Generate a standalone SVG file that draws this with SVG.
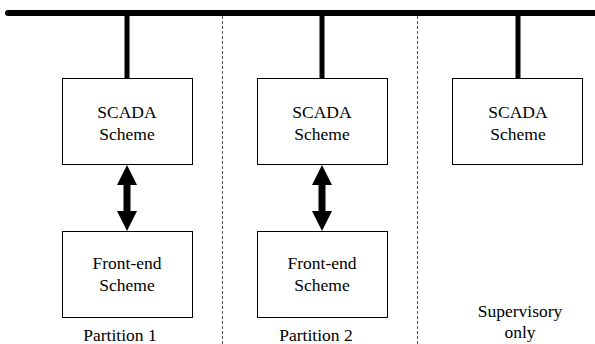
<svg xmlns="http://www.w3.org/2000/svg" width="595" height="344" viewBox="0 0 595 344">
  <style>
    .box { fill: #ffffff; stroke: #000000; stroke-width: 1; }
    .lbl { font-family: "Liberation Serif", "Times New Roman", serif; font-size: 17.5px; fill: #000000; text-anchor: middle; }
    .bus { stroke: #000000; stroke-width: 6; stroke-linecap: round; fill: none; }
    .stem { stroke: #000000; stroke-width: 5; stroke-linecap: round; fill: none; }
    .divider { stroke: #555555; stroke-width: 1; stroke-dasharray: 3 2; fill: none; }
    .link { stroke: #000000; stroke-width: 7; fill: none; }
  </style>
  <defs>
    <marker id="head" viewBox="0 0 21 20" refX="0" refY="10" markerWidth="21" markerHeight="20" markerUnits="userSpaceOnUse" orient="auto-start-reverse">
      <path d="M0,0 L20,10 L0,20 Z" fill="#000000"/>
    </marker>
  </defs>

  <!-- partition dividers -->
  <g id="dividers">
    <line class="divider" x1="222.5" y1="16" x2="222.5" y2="344"/>
    <line class="divider" x1="417.5" y1="16" x2="417.5" y2="344"/>
  </g>

  <!-- shared bus, drops to each SCADA scheme, and the SCADA/front-end links -->
  <g id="connectors">
    <line class="bus" x1="8" y1="13" x2="600" y2="13"/>
    <line class="stem" x1="127" y1="14" x2="127" y2="78"/>
    <line class="stem" x1="322" y1="14" x2="322" y2="78"/>
    <line class="stem" x1="518" y1="14" x2="518" y2="78"/>
    <line class="link" x1="127" y1="185" x2="127" y2="211" marker-start="url(#head)" marker-end="url(#head)"/>
    <line class="link" x1="322" y1="185" x2="322" y2="211" marker-start="url(#head)" marker-end="url(#head)"/>
  </g>

  <g id="scada1">
    <rect class="box" x="62.5" y="78.5" width="130" height="86"/>
    <text class="lbl" x="127" y="117.5">SCADA</text>
    <text class="lbl" x="127" y="139.5">Scheme</text>
  </g>
  <g id="scada2">
    <rect class="box" x="257.5" y="78.5" width="130" height="86"/>
    <text class="lbl" x="322" y="117.5">SCADA</text>
    <text class="lbl" x="322" y="139.5">Scheme</text>
  </g>
  <g id="scada3">
    <rect class="box" x="452.5" y="78.5" width="130" height="86"/>
    <text class="lbl" x="518" y="117.5">SCADA</text>
    <text class="lbl" x="518" y="139.5">Scheme</text>
  </g>

  <g id="frontend1">
    <rect class="box" x="62.5" y="231.5" width="130" height="86"/>
    <text class="lbl" x="127" y="268.5">Front-end</text>
    <text class="lbl" x="127" y="290.5">Scheme</text>
  </g>
  <g id="frontend2">
    <rect class="box" x="257.5" y="231.5" width="130" height="86"/>
    <text class="lbl" x="322" y="268.5">Front-end</text>
    <text class="lbl" x="322" y="290.5">Scheme</text>
  </g>

  <g id="captions">
    <text class="lbl" x="120" y="340.5">Partition 1</text>
    <text class="lbl" x="316" y="340.5">Partition 2</text>
    <text class="lbl" x="520" y="316.5">Supervisory</text>
    <text class="lbl" x="520" y="337.5">only</text>
  </g>
</svg>
